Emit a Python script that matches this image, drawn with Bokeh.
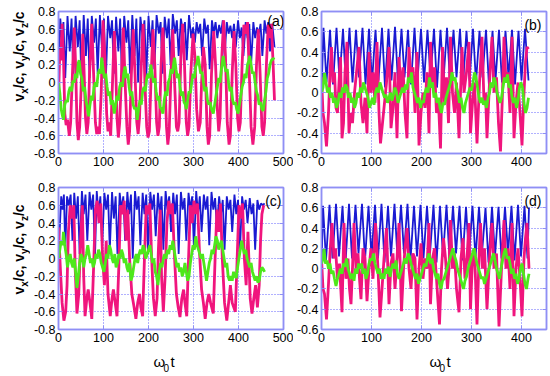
from math import pi
from bokeh.plotting import figure
from bokeh.layouts import column, row
from bokeh.models import (Label, LinearAxis, FixedTicker, Range1d,
                          NumeralTickFormatter, CustomJSTickFormatter)
from bokeh.embed import file_html
from bokeh.resources import INLINE

# ---------------- data ----------------
x_ticks_ac = [0, 100, 200, 300, 400, 500]
x_ticks_bd = [0, 100, 200, 300, 400]
y_ticks_ac = [-0.8, -0.6, -0.4, -0.2, 0, 0.2, 0.4, 0.6, 0.8]
y_ticks_bd = [-0.6, -0.4, -0.2, 0, 0.2, 0.4, 0.6, 0.8]

a_blue = [(0,0.0),(4,0.72),(8,0.45),(11,0.68),(15,0.05),(20,0.75),(25,0.35),(29,0.72),(33,0.1),(38,0.75),(43,0.4),(47,0.70),(51,0.0),(56,0.76),(61,0.3),(65,0.72),(69,0.05),(74,0.75),(79,0.45),(83,0.72),(87,0.1),(92,0.76),(97,0.35),(101,0.72),(105,0.0),(110,0.75),(115,0.5),(119,0.70),(123,0.1),(128,0.74),(133,0.35),(137,0.72),(141,0.05),(146,0.75),(151,0.45),(155,0.70),(159,0.1),(164,0.76),(169,0.3),(173,0.72),(177,0.0),(182,0.74),(187,0.5),(191,0.70),(195,0.05),(200,0.75),(205,0.4),(209,0.70),(213,0.15),(218,0.76),(223,0.55),(227,0.68),(231,0.1),(236,0.74),(241,0.5),(245,0.72),(249,0.2),(254,0.77),(259,0.55),(263,0.70),(267,0.3),(272,0.72),(277,0.55),(281,0.68),(285,0.25),(290,0.76),(295,0.5),(299,0.62),(303,0.45),(307,0.68),(311,0.55),(315,0.66),(319,0.3),(324,0.72),(328,0.55),(332,0.65),(336,0.15),(341,0.70),(345,0.55),(349,0.68),(353,0.5),(357,0.65),(361,0.55),(365,0.70),(369,0.3),(374,0.68),(378,0.55),(382,0.64),(386,0.5),(390,0.66),(394,0.4),(399,0.70),(403,0.5),(407,0.62),(411,0.3),(416,0.68),(420,0.5),(424,0.66),(428,0.2),(433,0.68),(437,0.5),(441,0.62),(445,0.55),(449,0.66),(453,0.3),(458,0.70),(462,0.55),(466,0.68),(470,0.35),(475,0.66),(480,0.4)]

a_pink = [(0,-0.18),(3,0.38),(5,0.25),(8,0.66),(11,0.3),(14,-0.35),(17,-0.48),(20,-0.42),(24,-0.6),(27,-0.45),(31,0.1),(35,0.62),(38,0.2),(41,-0.45),(44,-0.65),(47,-0.5),(50,-0.1),(54,0.55),(57,0.1),(60,-0.4),(63,-0.58),(66,-0.45),(69,0.1),(74,0.66),(78,0.1),(82,-0.45),(85,-0.58),(88,-0.5),(91,-0.58),(95,-0.1),(99,0.7),(103,0.3),(107,-0.35),(110,-0.55),(113,-0.45),(116,-0.6),(120,0.0),(124,0.58),(127,0.2),(130,-0.4),(133,-0.62),(136,-0.45),(140,0.1),(144,0.62),(148,0.0),(152,-0.5),(155,-0.7),(158,-0.55),(162,0.1),(166,0.6),(170,0.1),(174,-0.45),(177,-0.58),(180,-0.4),(184,0.2),(188,0.66),(192,0.0),(196,-0.5),(199,-0.62),(202,-0.55),(206,0.1),(210,0.6),(214,0.2),(218,-0.45),(221,-0.6),(224,-0.5),(228,0.2),(232,0.62),(236,0.1),(240,-0.5),(243,-0.7),(246,-0.55),(250,0.1),(254,0.6),(258,0.0),(262,-0.5),(265,-0.55),(268,-0.45),(272,0.3),(276,0.66),(280,0.2),(284,-0.45),(287,-0.6),(290,-0.5),(294,0.1),(299,0.55),(303,0.3),(307,-0.3),(311,-0.55),(315,-0.45),(318,0.0),(322,0.4),(326,0.2),(330,-0.5),(333,-0.7),(336,-0.6),(340,0.1),(345,0.58),(349,0.2),(353,-0.3),(356,-0.55),(359,-0.4),(362,0.2),(367,0.7),(371,0.3),(375,-0.45),(379,-0.7),(382,-0.6),(386,0.1),(390,0.58),(394,0.2),(398,-0.4),(401,-0.55),(404,-0.45),(408,0.2),(412,0.65),(416,0.55),(420,0.68),(424,0.1),(428,-0.5),(432,-0.7),(436,-0.5),(440,0.2),(444,0.6),(448,0.1),(452,-0.5),(455,-0.6),(458,-0.45),(462,0.2),(466,0.65),(470,0.5),(473,0.66),(477,0.2),(480,-0.2)]

a_green = [(0,0.0),(3,-0.12),(6,-0.3),(9,-0.38),(11,-0.42),(14,-0.25),(17,-0.2),(20,-0.22),(23,-0.1),(26,-0.05),(29,-0.1),(32,0.02),(35,0.0),(38,0.1),(41,0.05),(44,0.22),(46,0.25),(49,0.1),(52,0.05),(55,-0.1),(58,-0.05),(61,-0.2),(64,-0.28),(67,-0.38),(70,-0.25),(73,-0.15),(76,-0.2),(79,-0.05),(82,0.0),(85,-0.05),(88,0.1),(91,0.15),(94,0.1),(96,0.28),(99,0.15),(102,0.05),(105,0.1),(108,-0.05),(111,-0.15),(114,-0.1),(117,-0.25),(120,-0.2),(124,-0.35),(127,-0.25),(130,-0.15),(133,-0.2),(136,-0.05),(139,0.0),(142,-0.05),(145,0.1),(148,0.18),(151,0.05),(154,0.1),(157,-0.05),(160,-0.15),(163,-0.1),(166,-0.25),(169,-0.3),(172,-0.28),(175,-0.42),(178,-0.3),(181,-0.2),(184,-0.25),(187,-0.1),(190,-0.05),(193,-0.1),(196,0.05),(199,0.1),(202,0.05),(205,0.2),(208,0.1),(211,0.0),(214,0.05),(217,-0.1),(220,-0.2),(223,-0.15),(226,-0.28),(229,-0.3),(232,-0.35),(235,-0.2),(238,-0.1),(241,-0.15),(244,0.0),(247,0.05),(250,0.15),(253,0.1),(256,0.22),(258,0.28),(261,0.15),(264,0.05),(267,0.1),(270,-0.05),(273,-0.15),(276,-0.1),(279,-0.22),(282,-0.25),(284,-0.3),(287,-0.2),(290,-0.1),(293,-0.12),(296,0.0),(299,0.1),(302,0.05),(305,0.18),(308,0.22),(310,0.3),(313,0.2),(316,0.1),(319,0.12),(322,0.0),(325,-0.1),(328,-0.05),(331,-0.2),(334,-0.25),(337,-0.22),(340,-0.3),(344,-0.35),(347,-0.25),(350,-0.15),(353,-0.05),(356,0.05),(359,0.0),(362,0.15),(366,0.3),(369,0.2),(372,0.12),(375,0.15),(378,0.0),(381,-0.1),(384,-0.05),(387,-0.2),(390,-0.25),(393,-0.22),(396,-0.3),(399,-0.35),(402,-0.25),(405,-0.15),(408,-0.05),(411,0.0),(414,0.1),(417,0.05),(420,0.2),(423,0.25),(425,0.3),(428,0.2),(431,0.1),(434,0.12),(437,0.0),(440,-0.1),(443,-0.15),(446,-0.25),(449,-0.22),(452,-0.3),(455,-0.32),(458,-0.2),(461,-0.1),(464,0.05),(467,0.1),(470,0.2),(473,0.25),(477,0.27),(480,0.26)]

b_blue = [(0,0.0),(4,0.64),(10,0.1),(17,0.62),(23,0.08),(30,0.64),(36,0.12),(43,0.63),(49,0.06),(56,0.64),(62,0.1),(69,0.62),(75,0.15),(82,0.64),(88,0.08),(95,0.63),(101,0.1),(108,0.62),(114,0.12),(121,0.64),(127,0.05),(134,0.63),(140,0.12),(147,0.65),(153,0.1),(160,0.63),(166,0.15),(173,0.62),(179,0.08),(186,0.64),(192,0.12),(199,0.63),(205,0.1),(212,0.62),(218,0.15),(225,0.63),(231,0.05),(238,0.62),(244,0.12),(251,0.64),(257,0.1),(264,0.62),(270,0.15),(277,0.63),(283,0.08),(290,0.61),(296,0.12),(303,0.63),(309,0.1),(316,0.61),(322,0.15),(329,0.62),(335,0.06),(342,0.61),(348,0.12),(355,0.62),(361,0.1),(368,0.61),(374,0.15),(381,0.62),(387,0.08),(394,0.61),(400,0.12),(407,0.63),(414,0.12)]

b_pink = [(0,0.15),(3,-0.2),(6,-0.3),(10,-0.53),(14,-0.2),(17,0.2),(20,0.45),(23,0.1),(26,0.2),(29,-0.15),(32,-0.2),(35,0.1),(38,0.35),(41,-0.45),(44,-0.3),(47,0.2),(51,0.5),(55,-0.4),(58,-0.2),(62,-0.3),(66,0.0),(70,0.2),(75,0.45),(79,-0.1),(83,-0.3),(87,-0.05),(91,-0.4),(95,0.4),(99,0.0),(103,0.2),(107,-0.1),(111,0.5),(115,-0.2),(118,-0.5),(122,-0.3),(126,-0.1),(130,0.1),(135,0.45),(139,-0.35),(143,-0.15),(147,0.2),(151,-0.45),(155,0.35),(159,0.0),(163,0.25),(167,-0.2),(171,-0.45),(175,0.45),(179,0.1),(183,0.25),(187,-0.2),(191,0.4),(195,-0.52),(199,-0.2),(203,0.0),(207,-0.15),(211,0.2),(215,-0.4),(218,0.5),(222,0.1),(226,0.25),(230,-0.2),(234,-0.1),(238,-0.55),(242,0.45),(246,-0.1),(250,0.15),(254,-0.3),(258,0.55),(262,0.0),(266,-0.2),(270,0.1),(275,-0.45),(281,0.45),(285,0.0),(290,0.2),(295,0.5),(298,-0.4),(302,-0.1),(306,0.1),(311,-0.5),(316,0.1),(321,0.55),(325,-0.1),(328,0.0),(331,-0.45),(336,0.1),(341,0.55),(345,0.0),(350,0.15),(354,-0.3),(358,-0.58),(362,0.0),(365,0.55),(369,0.1),(373,0.2),(377,-0.2),(381,0.55),(385,-0.45),(389,-0.1),(393,0.1),(397,-0.2),(401,-0.52),(405,0.0),(408,0.3),(411,0.45),(414,0.43)]

b_green = [(0,0.0),(3,0.05),(6,0.2),(9,0.1),(12,0.0),(15,0.05),(18,-0.05),(21,0.0),(24,-0.1),(27,-0.05),(30,-0.15),(33,-0.1),(36,0.0),(39,-0.05),(42,0.05),(45,0.0),(48,0.08),(51,0.05),(54,-0.05),(57,0.0),(60,-0.1),(63,-0.05),(66,-0.15),(69,-0.1),(72,0.0),(75,-0.05),(78,0.05),(81,0.0),(84,0.1),(87,0.05),(90,0.0),(93,-0.05),(96,-0.15),(99,-0.1),(102,-0.05),(105,-0.12),(108,0.0),(111,0.05),(114,0.0),(117,0.1),(120,0.05),(123,0.0),(126,-0.05),(129,-0.02),(132,-0.1),(135,-0.05),(138,0.0),(141,-0.08),(144,-0.02),(147,0.05),(150,0.0),(153,-0.1),(156,-0.05),(159,0.0),(162,0.05),(165,0.0),(168,0.08),(171,0.03),(174,0.15),(177,0.1),(180,0.2),(183,0.05),(186,0.0),(189,-0.05),(192,-0.1),(195,-0.05),(198,-0.15),(201,-0.08),(204,-0.1),(207,0.0),(210,0.05),(213,0.0),(216,0.15),(219,0.05),(222,0.1),(225,-0.05),(228,0.0),(231,-0.1),(234,-0.05),(237,-0.15),(240,-0.2),(243,-0.1),(246,-0.12),(249,-0.05),(252,0.0),(255,0.05),(258,0.1),(261,0.2),(264,0.12),(267,0.15),(270,0.05),(273,0.0),(276,-0.1),(279,-0.05),(282,-0.15),(285,-0.2),(288,-0.1),(291,-0.05),(294,0.0),(297,0.05),(300,0.02),(303,0.1),(306,0.2),(309,0.15),(312,0.05),(315,-0.05),(318,-0.1),(321,-0.05),(324,-0.12),(327,-0.08),(330,-0.15),(333,-0.05),(336,0.0),(339,0.1),(342,0.05),(345,0.15),(348,0.1),(351,0.0),(354,-0.05),(357,-0.1),(360,-0.05),(363,0.05),(366,0.15),(369,0.1),(372,0.18),(375,0.05),(378,0.08),(381,-0.05),(384,-0.1),(387,-0.05),(390,-0.15),(393,-0.08),(396,0.05),(399,0.1),(402,0.05),(405,-0.1),(408,-0.2),(411,-0.15),(414,-0.05)]

c_blue = [(0,0.05),(3,0.35),(6,0.70),(9,0.55),(12,0.72),(15,0.1),(19,0.7),(23,0.6),(27,0.72),(31,0.2),(35,0.74),(39,0.45),(43,0.7),(47,0.05),(52,0.76),(56,0.5),(60,0.72),(64,0.2),(69,0.75),(73,0.55),(77,0.72),(81,0.0),(85,0.76),(89,0.5),(93,0.7),(97,0.15),(102,0.74),(106,0.55),(110,0.72),(114,0.1),(119,0.75),(123,0.45),(127,0.7),(131,0.05),(136,0.74),(140,0.55),(144,0.7),(148,0.2),(153,0.75),(157,0.5),(161,0.72),(165,0.0),(170,0.76),(174,0.55),(178,0.7),(182,0.15),(187,0.74),(191,0.5),(195,0.72),(199,0.05),(204,0.75),(208,0.55),(212,0.72),(216,0.25),(221,0.74),(225,0.5),(229,0.7),(233,0.1),(238,0.76),(242,0.55),(246,0.7),(250,0.3),(255,0.74),(259,0.5),(263,0.72),(267,0.05),(272,0.75),(276,0.55),(280,0.68),(284,0.2),(289,0.74),(293,0.55),(297,0.7),(301,0.1),(306,0.76),(310,0.5),(314,0.7),(318,0.3),(323,0.72),(327,0.55),(331,0.7),(335,0.15),(340,0.75),(344,0.55),(348,0.68),(352,0.35),(357,0.7),(361,0.5),(365,0.66),(369,0.1),(374,0.7),(378,0.55),(382,0.66),(386,0.3),(391,0.72),(395,0.5),(399,0.66),(403,0.05),(408,0.7),(412,0.55),(416,0.66),(420,0.4),(425,0.68),(429,0.5),(433,0.62),(437,0.1),(442,0.66),(446,0.55),(450,0.62),(454,0.6),(458,0.62)]

c_pink = [(0,0.35),(4,-0.1),(8,-0.5),(12,-0.7),(16,-0.6),(19,-0.3),(22,0.3),(26,0.6),(30,0.45),(34,0.6),(37,-0.1),(41,-0.62),(45,-0.4),(49,0.2),(53,0.6),(56,-0.2),(59,-0.65),(63,-0.45),(66,-0.35),(70,-0.5),(74,-0.68),(78,-0.1),(82,0.55),(86,0.65),(90,0.4),(94,0.62),(98,0.0),(102,-0.3),(106,0.2),(110,-0.4),(115,-0.65),(119,-0.45),(122,-0.35),(126,-0.5),(130,-0.65),(134,-0.1),(138,0.6),(142,0.5),(146,0.65),(150,0.2),(154,0.55),(158,0.0),(163,-0.4),(168,-0.55),(172,-0.68),(176,-0.5),(180,-0.4),(183,-0.55),(187,-0.65),(191,0.0),(195,0.6),(199,0.5),(203,0.62),(207,0.0),(211,-0.45),(215,-0.65),(219,-0.45),(222,0.1),(226,0.55),(229,-0.2),(233,-0.6),(237,-0.2),(241,0.4),(245,0.65),(249,0.5),(253,0.62),(257,0.1),(262,-0.4),(266,-0.55),(270,-0.66),(274,-0.45),(278,-0.35),(281,-0.5),(285,-0.65),(289,0.0),(293,0.6),(297,0.4),(301,0.65),(305,0.5),(309,0.62),(313,0.1),(318,-0.35),(322,-0.5),(326,-0.68),(330,-0.5),(334,-0.4),(338,-0.5),(344,-0.62),(348,0.0),(352,0.55),(356,0.3),(360,0.62),(364,0.0),(369,-0.5),(374,-0.7),(378,-0.5),(382,-0.3),(386,-0.5),(393,-0.6),(397,0.0),(401,0.6),(405,0.45),(409,0.62),(413,0.0),(417,-0.3),(421,0.3),(426,-0.45),(430,-0.62),(434,-0.45),(438,-0.3),(442,-0.55),(446,-0.3),(449,0.2),(452,0.5),(456,0.6)]

c_green = [(0,0.0),(3,0.1),(6,0.2),(9,0.15),(11,0.3),(14,0.15),(17,0.05),(20,-0.1),(23,0.0),(26,0.05),(29,-0.05),(32,-0.1),(35,0.0),(38,-0.15),(41,-0.33),(44,-0.2),(47,-0.05),(50,0.05),(53,0.0),(56,-0.1),(59,0.0),(62,0.05),(65,0.15),(68,0.05),(71,-0.05),(74,0.0),(77,-0.1),(80,-0.05),(83,0.05),(86,0.0),(89,0.1),(92,0.05),(95,-0.05),(98,-0.1),(101,-0.15),(104,-0.05),(107,0.05),(110,0.0),(113,0.15),(116,0.1),(119,0.0),(122,-0.05),(125,0.05),(128,-0.1),(131,-0.05),(134,0.05),(137,0.0),(140,0.1),(143,0.05),(146,-0.05),(149,0.0),(152,-0.1),(155,-0.15),(158,-0.05),(161,-0.25),(164,-0.2),(167,-0.1),(170,0.0),(173,0.05),(176,-0.05),(179,0.05),(182,0.1),(185,0.05),(188,0.15),(191,0.1),(194,0.0),(197,0.05),(200,0.1),(203,0.15),(206,0.05),(209,-0.05),(212,0.0),(215,-0.15),(218,-0.2),(221,-0.3),(224,-0.15),(227,-0.05),(230,-0.1),(233,0.0),(236,0.05),(239,0.0),(242,0.1),(245,0.05),(248,0.15),(251,0.1),(254,0.2),(257,0.1),(260,0.0),(263,-0.1),(266,-0.05),(269,-0.15),(272,-0.1),(275,-0.2),(278,-0.15),(281,-0.05),(284,-0.15),(287,-0.25),(290,-0.2),(293,-0.05),(296,0.05),(299,0.15),(302,0.1),(305,0.25),(308,0.15),(311,0.1),(314,0.05),(317,0.0),(320,0.05),(323,-0.05),(326,-0.15),(329,-0.25),(332,-0.15),(335,-0.05),(338,0.0),(341,0.1),(344,0.05),(347,0.15),(350,0.25),(353,0.2),(356,0.1),(359,0.15),(362,0.2),(365,0.1),(368,0.0),(371,-0.1),(374,-0.05),(377,-0.2),(380,-0.25),(383,-0.2),(386,-0.25),(389,-0.15),(392,-0.2),(395,-0.22),(398,-0.1),(401,0.0),(404,0.1),(407,0.2),(410,0.12),(413,0.05),(416,0.1),(419,0.0),(422,-0.05),(425,-0.1),(428,-0.05),(431,-0.15),(434,-0.2),(437,-0.25),(440,-0.2),(443,-0.27),(446,-0.25),(449,-0.15),(452,-0.1),(455,-0.12),(458,-0.15)]

d_blue = [(0,0.0),(3,0.62),(9,0.08),(16,0.63),(22,0.1),(29,0.64),(35,0.12),(42,0.62),(48,0.05),(55,0.64),(61,0.1),(68,0.63),(74,0.15),(81,0.64),(87,0.08),(94,0.62),(100,0.12),(107,0.63),(113,0.1),(120,0.64),(126,0.06),(133,0.62),(139,0.12),(146,0.64),(152,0.1),(159,0.63),(165,0.15),(172,0.64),(178,0.08),(185,0.62),(191,0.12),(198,0.63),(204,0.1),(211,0.62),(217,0.15),(224,0.63),(230,0.06),(237,0.62),(243,0.12),(250,0.63),(256,0.1),(263,0.62),(269,0.15),(276,0.62),(282,0.08),(289,0.61),(295,0.12),(302,0.62),(308,0.1),(315,0.61),(321,0.15),(328,0.6),(334,0.06),(341,0.61),(347,0.12),(354,0.61),(360,0.1),(367,0.61),(373,0.15),(380,0.62),(386,0.08),(393,0.63),(399,0.12),(406,0.62),(412,0.1),(415,0.6)]

d_pink = [(0,0.1),(3,-0.2),(6,-0.25),(10,-0.5),(14,-0.15),(17,0.15),(21,0.45),(25,0.1),(28,0.2),(32,-0.1),(36,0.05),(41,-0.43),(45,0.45),(49,-0.1),(53,0.1),(56,-0.2),(59,-0.35),(62,0.0),(65,0.45),(69,0.0),(73,0.15),(76,-0.1),(79,-0.3),(83,0.2),(87,0.1),(91,-0.32),(95,0.0),(99,0.2),(103,-0.1),(108,0.45),(113,0.0),(117,-0.48),(121,-0.2),(125,0.1),(130,0.4),(135,-0.35),(139,0.05),(143,0.15),(147,-0.2),(151,0.1),(155,0.45),(160,-0.42),(164,0.0),(167,0.2),(171,0.4),(175,0.0),(179,-0.2),(183,0.15),(187,0.1),(191,-0.5),(195,0.0),(199,0.25),(203,-0.1),(207,0.1),(211,0.0),(215,0.45),(218,-0.35),(222,0.1),(226,0.2),(230,-0.1),(236,-0.55),(240,0.0),(244,0.3),(248,0.1),(252,-0.2),(255,0.0),(258,0.48),(262,0.0),(266,0.15),(270,-0.2),(275,-0.43),(279,0.1),(283,0.3),(287,-0.1),(291,0.1),(295,0.45),(298,-0.4),(302,0.1),(306,0.2),(311,-0.55),(315,0.1),(318,0.45),(322,0.0),(326,0.2),(331,-0.4),(336,0.1),(341,0.45),(345,0.0),(350,0.15),(355,-0.57),(360,0.0),(365,0.48),(369,0.0),(373,0.2),(377,-0.2),(381,0.45),(385,-0.47),(389,0.0),(393,0.2),(397,-0.1),(401,-0.47),(405,0.1),(408,0.3),(411,0.45),(415,0.0)]

d_green = [(0,0.05),(3,0.1),(5,0.2),(8,0.05),(11,0.08),(14,0.0),(17,0.05),(20,-0.05),(23,-0.02),(26,-0.1),(29,-0.17),(32,-0.1),(35,-0.05),(38,0.0),(41,-0.05),(44,0.05),(47,0.02),(50,0.1),(53,0.0),(56,-0.05),(59,-0.1),(62,-0.05),(65,-0.12),(68,0.0),(71,-0.05),(74,0.05),(77,0.0),(80,0.05),(83,-0.05),(86,0.0),(89,-0.1),(92,-0.05),(95,0.05),(98,0.1),(101,0.08),(104,0.15),(107,0.05),(110,0.0),(113,-0.05),(116,0.0),(119,-0.1),(122,-0.05),(125,-0.1),(128,0.0),(131,-0.05),(134,0.02),(137,-0.08),(140,0.0),(143,0.05),(146,0.0),(149,0.08),(152,-0.05),(155,-0.1),(158,-0.05),(161,0.0),(164,0.05),(167,0.1),(170,0.05),(173,0.15),(176,0.12),(179,0.05),(182,0.0),(185,-0.05),(188,-0.1),(191,-0.05),(194,-0.15),(197,-0.1),(200,-0.05),(203,0.0),(206,0.05),(209,0.02),(212,0.1),(215,0.15),(218,0.05),(221,0.1),(224,0.0),(227,-0.05),(230,-0.1),(233,-0.05),(236,-0.15),(239,-0.2),(242,-0.12),(245,-0.1),(248,-0.05),(251,0.0),(254,0.05),(257,0.1),(260,0.15),(263,0.2),(266,0.12),(269,0.08),(272,0.0),(275,-0.05),(278,-0.1),(281,-0.15),(284,-0.2),(287,-0.12),(290,-0.08),(293,0.0),(296,0.05),(299,0.1),(302,0.15),(305,0.2),(308,0.12),(311,0.05),(314,0.0),(317,-0.05),(320,-0.1),(323,-0.08),(326,-0.15),(329,-0.1),(332,-0.05),(335,0.0),(338,0.05),(341,0.1),(344,0.15),(347,0.08),(350,0.0),(353,-0.05),(356,-0.1),(359,0.0),(362,0.08),(365,0.15),(368,0.2),(371,0.1),(374,0.12),(377,0.05),(380,-0.05),(383,0.0),(386,-0.1),(389,-0.05),(392,-0.15),(395,-0.1),(398,0.0),(401,0.05),(404,-0.05),(407,-0.15),(410,-0.2),(413,-0.1),(415,-0.05)]

# ---------------- style ----------------
FONT = "Liberation Sans"
FRAME = "#8f8ff5"
GRID = "#3c3cff"
BLUE = "#1a1ad2"
PINK = "#f0157d"
GREEN = "#4ee81c"
ADV_B = {'v': .556, 'x': .556, 'y': .556, 'z': .5, '/': .278, 'c': .556, ',': .278, ' ': .278}


def text_w(s, size):
    return sum(ADV_B.get(ch, .556) for ch in s) * size


def split(series):
    return [p[0] for p in series], [p[1] for p in series]


def panel(xmax, ymin, ymax, xt, yt, fh, bl, br, bt, bb, series, tag, tag_dx, tag_dy):
    p = figure(frame_width=225, frame_height=fh,
               x_range=Range1d(0, xmax), y_range=Range1d(ymin, ymax),
               output_backend="svg", toolbar_location=None,
               min_border_left=bl, min_border_right=br,
               min_border_top=bt, min_border_bottom=bb)
    p.outline_line_color = FRAME
    p.outline_line_width = 1.5
    p.xaxis.ticker = FixedTicker(ticks=xt)
    p.yaxis.ticker = FixedTicker(ticks=yt)
    p.xaxis.formatter = NumeralTickFormatter(format="0")
    p.yaxis.formatter = NumeralTickFormatter(format="0.[0]")
    for ax in (p.xaxis[0], p.yaxis[0]):
        ax.axis_line_color = FRAME
        ax.axis_line_width = 1.5
        ax.major_tick_line_color = FRAME
        ax.major_tick_in = 4
        ax.major_tick_out = 0
        ax.minor_tick_line_color = None
        ax.major_label_text_font = FONT
        ax.major_label_text_font_size = "12.5px"
        ax.major_label_text_color = "black"
        ax.major_label_standoff = 3
    for loc, tk in (("right", yt), ("above", xt)):
        ax = LinearAxis(ticker=FixedTicker(ticks=tk),
                        formatter=CustomJSTickFormatter(code="return ''"),
                        axis_line_color=FRAME, axis_line_width=1.5,
                        major_tick_line_color=FRAME, major_tick_in=4,
                        major_tick_out=0, minor_tick_line_color=None,
                        major_label_standoff=0)
        p.add_layout(ax, loc)
    for g in (p.xgrid[0], p.ygrid[0]):
        g.grid_line_color = GRID
        g.grid_line_dash = "1 2"
        g.grid_line_width = 1
        g.grid_line_alpha = 0.8
    for (t, v), col, lw in zip([split(s) for s in series],
                               (BLUE, PINK, GREEN), (1.8, 2.8, 2.8)):
        p.line(t, v, line_color=col, line_width=lw)
    p.add_layout(Label(x=225 + tag_dx, y=fh + tag_dy, x_units="screen", y_units="screen",
                       text=tag, text_align="right", text_baseline="top",
                       text_font=FONT, text_font_size="14px", text_color="black"))
    return p


def strip(w, h):
    s = figure(width=w, height=h, x_range=Range1d(0, w), y_range=Range1d(0, h),
               x_axis_type=None, y_axis_type=None, output_backend="svg",
               toolbar_location=None, min_border=0)
    s.outline_line_color = None
    s.grid.visible = False
    return s


def ylabel_strip(h, y0, x_base):
    s = strip(30, h)
    pieces = [("v", 0), ("x", 1), ("/c, v", 0), ("y", 1), ("/c, v", 0), ("z", 1), ("/c", 0)]
    y = y0
    for txt, sub in pieces:
        fs = 10 if sub else 14
        s.add_layout(Label(x=x_base + (6 if sub else 0), y=y, x_units="screen", y_units="screen",
                           text=txt, angle=pi / 2, text_font=FONT, text_font_size=f"{fs}px",
                           text_font_style="bold", text_baseline="alphabetic",
                           text_align="left", text_color="black"))
        y += text_w(txt, fs)
    return s


def xlabel(s, x0, yb):
    s.add_layout(Label(x=x0, y=yb, x_units="screen", y_units="screen", text="ω",
                       text_font=FONT, text_font_size="15px", text_baseline="alphabetic",
                       text_align="left", text_color="black"))
    s.add_layout(Label(x=x0 + 10, y=yb - 6, x_units="screen", y_units="screen", text="0",
                       text_font=FONT, text_font_size="10px", text_baseline="alphabetic",
                       text_align="left", text_color="black"))
    s.add_layout(Label(x=x0 + 17, y=yb, x_units="screen", y_units="screen", text="t",
                       text_font=FONT, text_font_size="15px", text_baseline="alphabetic",
                       text_align="left", text_color="black"))


# top row: frames y 11..153 ; bottom row: frames y 187..329
pa = panel(500, -0.8, 0.8, x_ticks_ac, y_ticks_ac, 142, 27, 10, 11, 22,
           (a_blue, a_pink, a_green), "(a)", 1, -1)
pb = panel(450, -0.6, 0.8, x_ticks_bd, y_ticks_bd, 142, 26, 4, 11, 22,
           (b_blue, b_pink, b_green), "(b)", -5, -5)
pc = panel(500, -0.8, 0.8, x_ticks_ac, y_ticks_ac, 142, 27, 10, 12, 18,
           (c_blue, c_pink, c_green), "(c)", -2, -5)
pd = panel(450, -0.6, 0.8, x_ticks_bd, y_ticks_bd, 142, 26, 4, 12, 18,
           (d_blue, d_pink, d_green), "(d)", -5, -5)

ya = ylabel_strip(175, 52, 18)
yc = ylabel_strip(172, 35, 18)
xs = strip(547, 29)
xlabel(xs, 153, 15)
xlabel(xs, 429, 15)

layout = column(row(ya, pa, pb), row(yc, pc, pd), xs)
open("out.html", "w").write(file_html(layout, INLINE))
